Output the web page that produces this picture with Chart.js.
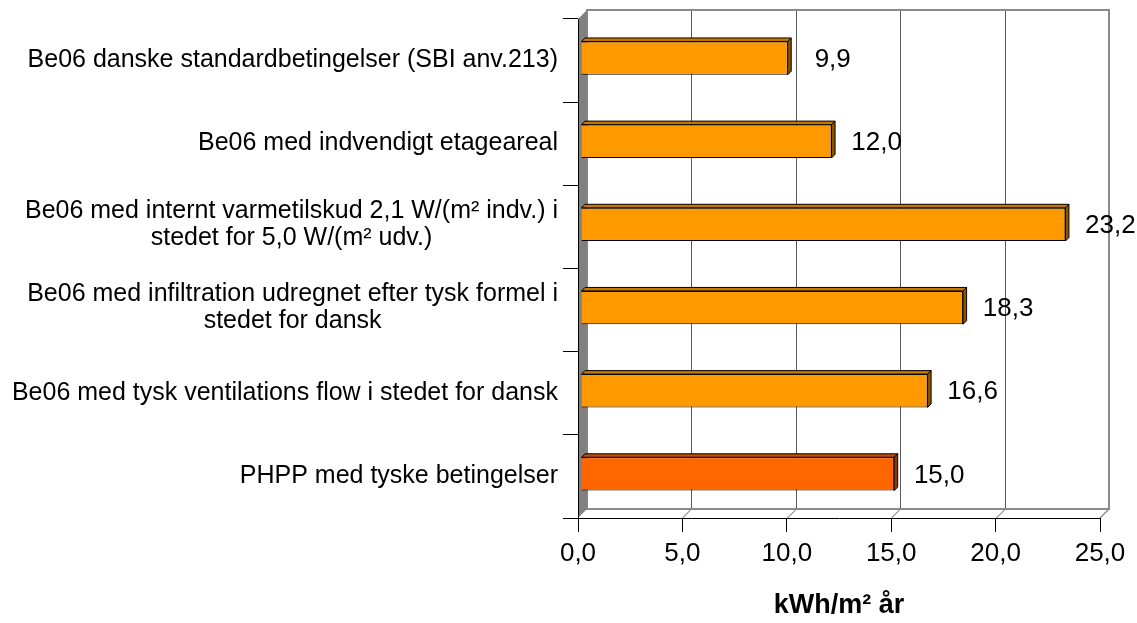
<!DOCTYPE html>
<html>
<head>
<meta charset="utf-8">
<script src="https://cdn.jsdelivr.net/npm/chart.js@4.4.0/dist/chart.umd.min.js"></script>
<style>
  body { margin: 0; background: #fff; }
  #wrap { width: 1137px; height: 623px; }
</style>
</head>
<body>
<div id="wrap"><canvas id="chart" width="1137" height="623"></canvas></div>
<script>
// Data
const categories = [
  ['Be06 danske standardbetingelser (SBI anv.213)'],
  ['Be06 med indvendigt etageareal'],
  ['Be06 med internt varmetilskud 2,1 W/(m\u00b2 indv.) i', 'stedet for 5,0 W/(m\u00b2 udv.)'],
  ['Be06 med infiltration udregnet efter tysk formel i', 'stedet for dansk'],
  ['Be06 med tysk ventilations flow i stedet for dansk'],
  ['PHPP med tyske betingelser']
];
const values = [9.9, 12.0, 23.2, 18.3, 16.6, 15.0];
const barColors = ['#FF9900', '#FF9900', '#FF9900', '#FF9900', '#FF9900', '#FF6600'];
const topColors = ['#C77700', '#C77700', '#C77700', '#C77700', '#C77700', '#C24E00'];
const sideColors = ['#8F5600', '#8F5600', '#8F5600', '#8F5600', '#8F5600', '#8F3A00'];
const xTicks = [0, 5, 10, 15, 20, 25];
const axisTitle = 'kWh/m\u00b2 \u00e5r';

// 3D look
const WALL_DEPTH = 9;
const BAR_DEPTH = 3.5;
const BAR_SHIFT_X = 3;
const BAR_SHIFT_Y = -2.5;
const FONT = "'Liberation Sans', Arial, sans-serif";

function fmt(v) {
  return v.toFixed(1).replace('.', ',');
}

// Walls and floor, drawn before the axes
const wallPlugin = {
  id: 'wall',
  beforeDraw(chart) {
    const { ctx, chartArea: a, scales: { x } } = chart;
    const d = WALL_DEPTH;
    ctx.save();
    ctx.fillStyle = '#fff';
    ctx.fillRect(0, 0, chart.width, chart.height);

    // gridlines on back wall and floor
    ctx.strokeStyle = '#5a5a5a';
    ctx.lineWidth = 1;
    xTicks.slice(1, -1).forEach(v => {
      const px = Math.round(x.getPixelForValue(v)) + 0.5;
      ctx.beginPath();
      ctx.moveTo(px + d, a.top - d);
      ctx.lineTo(px + d, a.bottom - d);
      ctx.lineTo(px, a.bottom);
      ctx.stroke();
    });

    // back wall frame
    ctx.strokeStyle = '#8a8a8a';
    ctx.lineWidth = 2;
    ctx.strokeRect(a.left + d, a.top - d, a.right - a.left, a.bottom - a.top);
    ctx.lineWidth = 1.5;
    ctx.beginPath();
    ctx.moveTo(a.right + d, a.bottom - d);
    ctx.lineTo(a.right, a.bottom);
    ctx.stroke();

    // left side wall
    ctx.fillStyle = '#808080';
    ctx.beginPath();
    ctx.moveTo(a.left, a.top);
    ctx.lineTo(a.left + d, a.top - d);
    ctx.lineTo(a.left + d, a.bottom - d);
    ctx.lineTo(a.left, a.bottom);
    ctx.closePath();
    ctx.fill();
    ctx.restore();
  }
};

// Bars: shift front faces, then add top/side faces, value labels and category labels
const barPlugin = {
  id: 'bar3d',
  beforeDatasetDraw(chart) {
    chart.ctx.save();
    chart.ctx.translate(BAR_SHIFT_X, BAR_SHIFT_Y);
  },
  afterDatasetDraw(chart) {
    chart.ctx.restore();
  },
  afterDatasetsDraw(chart) {
    const { ctx, scales: { y } } = chart;
    const meta = chart.getDatasetMeta(0);
    const d = BAR_DEPTH;
    ctx.save();
    ctx.lineWidth = 1;
    ctx.strokeStyle = '#000';
    ctx.lineJoin = 'round';
    meta.data.forEach((bar, i) => {
      const p = bar.getProps(['x', 'y', 'base', 'height'], true);
      const x0 = p.base + BAR_SHIFT_X;
      const x1 = p.x + BAR_SHIFT_X;
      const t = p.y - p.height / 2 + BAR_SHIFT_Y;
      const b = p.y + p.height / 2 + BAR_SHIFT_Y;
      // top face
      ctx.fillStyle = topColors[i];
      ctx.beginPath();
      ctx.moveTo(x0, t);
      ctx.lineTo(x0 + d, t - d);
      ctx.lineTo(x1 + d, t - d);
      ctx.lineTo(x1, t);
      ctx.closePath();
      ctx.fill();
      ctx.stroke();
      // side face
      ctx.fillStyle = sideColors[i];
      ctx.beginPath();
      ctx.moveTo(x1, t);
      ctx.lineTo(x1 + d, t - d);
      ctx.lineTo(x1 + d, b - d);
      ctx.lineTo(x1, b);
      ctx.closePath();
      ctx.fill();
      ctx.stroke();
      // value label
      ctx.fillStyle = '#000';
      ctx.font = '26px ' + FONT;
      ctx.textAlign = 'center';
      ctx.textBaseline = 'middle';
      ctx.fillText(fmt(values[i]), x1 + 45, p.y + BAR_SHIFT_Y + 1.5);
    });

    // category labels, each block right aligned, lines centred within it
    ctx.font = '25px ' + FONT;
    ctx.textAlign = 'center';
    ctx.textBaseline = 'middle';
    const right = 558;
    const lh = 27;
    categories.forEach((lines, i) => {
      const cy = y.getPixelForValue(i) - (lines.length > 1 ? 2.5 : 0.5);
      const w = Math.max(...lines.map(s => ctx.measureText(s).width));
      const cx = right - w / 2;
      lines.forEach((s, j) => {
        ctx.fillText(s, cx, cy + (j - (lines.length - 1) / 2) * lh);
      });
    });
    ctx.restore();
  }
};

const ctx = document.getElementById('chart').getContext('2d');
const chart = new Chart(ctx, {
  type: 'bar',
  data: {
    labels: categories,
    datasets: [{
      data: values,
      backgroundColor: barColors,
      borderColor: '#000',
      borderWidth: 1,
      barPercentage: 0.4,
      categoryPercentage: 1.0,
    }]
  },
  options: {
    indexAxis: 'y',
    responsive: false,
    animation: false,
    layout: {
      padding: { top: 19, right: 37, left: 0, bottom: 0 }
    },
    scales: {
      x: {
        min: 0,
        max: 25,
        afterBuildTicks: (scale) => {
          scale.ticks = xTicks.map(v => ({ value: v }));
        },
        afterFit: (scale) => { scale.height = 105; },
        grid: {
          drawOnChartArea: false,
          tickLength: 14,
          color: '#000',
        },
        border: { color: '#000', width: 1 },
        ticks: {
          color: '#000',
          padding: 6,
          font: { family: FONT, size: 26 },
          callback: (v) => fmt(v),
        },
        title: {
          display: true,
          text: axisTitle,
          color: '#000',
          font: { family: FONT, size: 27, weight: 'bold' },
          padding: { top: 0, bottom: 1 },
        },
      },
      y: {
        afterFit: (scale) => { scale.width = 578; },
        grid: {
          drawOnChartArea: false,
          tickLength: 15,
          color: '#000',
          offset: true,
        },
        border: { color: '#000', width: 1 },
        ticks: { display: false },
      },
    },
    plugins: {
      legend: { display: false },
      tooltip: { enabled: false },
    },
  },
  plugins: [wallPlugin, barPlugin],
});
</script>
</body>
</html>
